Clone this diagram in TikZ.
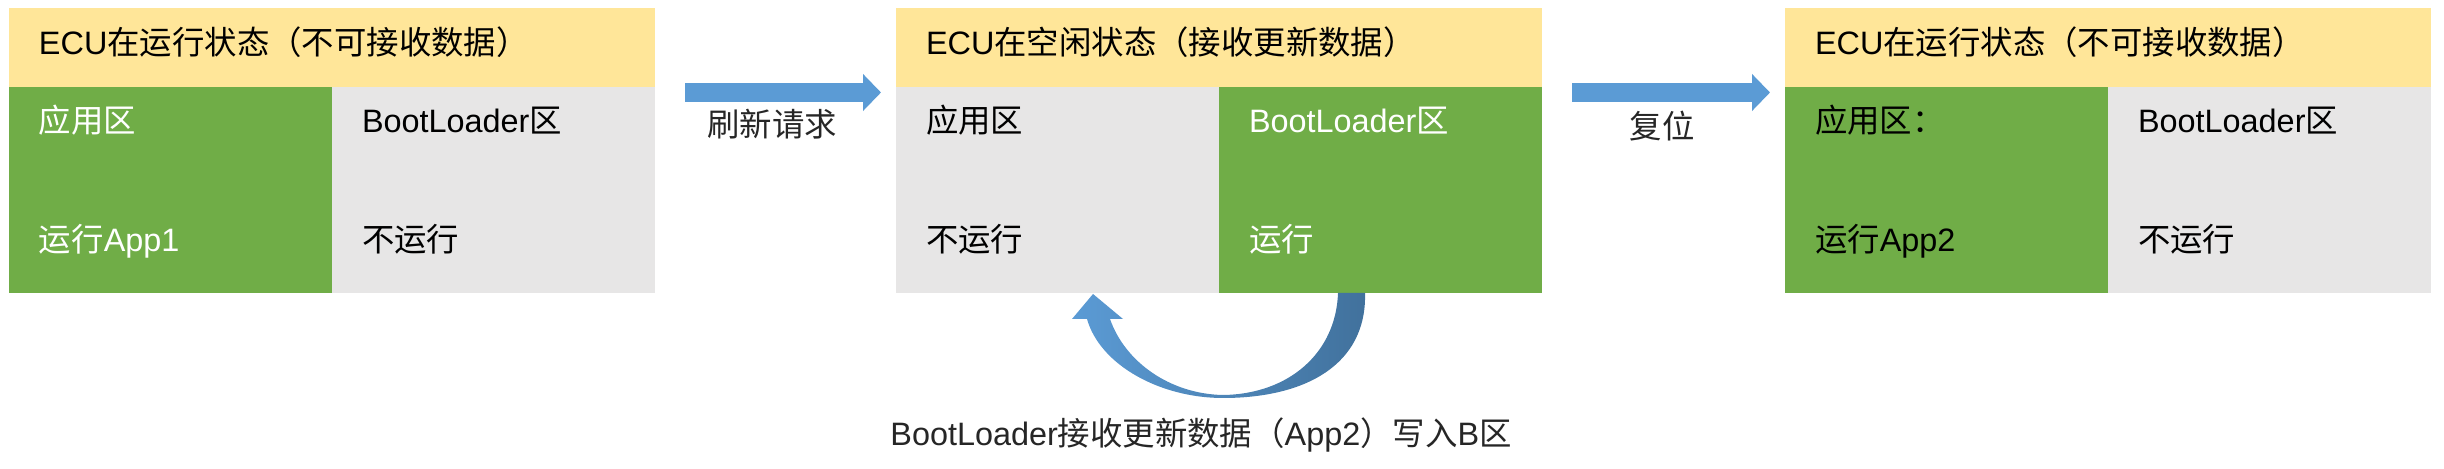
\documentclass[tikz,border=0pt]{standalone}
\usepackage{fontspec}
\setmainfont{Liberation Sans}
\newfontfamily\cjk{Noto Sans CJK SC}
\usepackage{tikz}
\usetikzlibrary{arrows.meta}

\newcommand{\zh}[1]{{\cjk #1}}
\definecolor{bandyellow}{HTML}{FFE699}
\definecolor{rungreen}{HTML}{70AD47}
\definecolor{idlegrey}{HTML}{E7E6E6}
\definecolor{arrowblue}{HTML}{5B9BD5}
\definecolor{arrowdark}{HTML}{41719C}

\begin{document}
\begin{tikzpicture}[x=0.5pt,y=-0.5pt,
	every node/.style={inner sep=0pt,outer sep=0pt,font=\fontsize{16.2pt}{19pt}\selectfont},
	band/.style={fill=bandyellow,minimum width=323pt,minimum height=39.5pt,anchor=north west},
	half/.style={minimum width=161.5pt,minimum height=103pt,anchor=north west},
	live/.style={half,fill=rungreen},
	idle/.style={half,fill=idlegrey},
	txt/.style={anchor=base west,text=black},
	wtxt/.style={anchor=base west,text=white},
	note/.style={anchor=base,text=black!85},
	blockarrow/.style={draw=arrowblue,line width=9.5pt,-{Triangle[width=18pt,length=9pt]}}]
	\useasboundingbox (0,0) rectangle (2444,469);

	\node[band](bandA) at (9,8) {};
	\node[live](appA) at (9,87) {};
	\node[idle](blA) at (332,87) {};
	\node[band](bandB) at (896,8) {};
	\node[idle](appB) at (896,87) {};
	\node[live](blB) at (1219,87) {};
	\node[band](bandC) at (1785,8) {};
	\node[live](appC) at (1785,87) {};
	\node[idle](blC) at (2108,87) {};

	\node[txt](tA) at (39,55) {ECU\zh{在运行状态（不可接收数据）}};
	\node[wtxt](aA1) at (39,133) {\zh{应用区}};
	\node[wtxt](aA2) at (39,252) {\zh{运行}App1};
	\node[txt](bA1) at (362,133) {BootLoader\zh{区}};
	\node[txt](bA2) at (362,252) {\zh{不运行}};

	\node[txt](tB) at (926,55) {ECU\zh{在空闲状态（接收更新数据）}};
	\node[txt](aB1) at (926,133) {\zh{应用区}};
	\node[txt](aB2) at (926,252) {\zh{不运行}};
	\node[wtxt](bB1) at (1249,133) {BootLoader\zh{区}};
	\node[wtxt](bB2) at (1249,252) {\zh{运行}};

	\node[txt](tC) at (1815,55) {ECU\zh{在运行状态（不可接收数据）}};
	\node[txt](aC1) at (1815,133) {\zh{应用区：}};
	\node[txt](aC2) at (1815,252) {\zh{运行}App2};
	\node[txt](bC1) at (2138,133) {BootLoader\zh{区}};
	\node[txt](bC2) at (2138,252) {\zh{不运行}};

	\node[note](req) at (772,137) {\zh{刷新请求}};
	\node[note](rst) at (1662,139) {\zh{复位}};
	\node[note](wr) at (1201,446) {BootLoader\zh{接收更新数据（}App2\zh{）写入}B\zh{区}};

	\draw[blockarrow] ([xshift=15pt,yshift=-2.75pt]blA.north east) -- ([xshift=-7.5pt,yshift=-2.75pt]appB.north west);
	\draw[blockarrow] ([xshift=15pt,yshift=-2.75pt]blB.north east) -- ([xshift=-7.5pt,yshift=-2.75pt]appC.north west);

	\shade[left color=arrowblue,middle color=arrowblue!85!arrowdark,right color=arrowdark]
		(1365,293) .. controls (1367,365) and (1305,398) .. (1223,398)
		.. controls (1160,398) and (1100,365) .. (1087,319) -- (1072,319) -- (1093,294) -- (1123,319) -- (1110,319)
		.. controls (1125,362) and (1170,394) .. (1223,395)
		.. controls (1290,394) and (1336,352) .. (1338,293) -- cycle;
\end{tikzpicture}
\end{document}
